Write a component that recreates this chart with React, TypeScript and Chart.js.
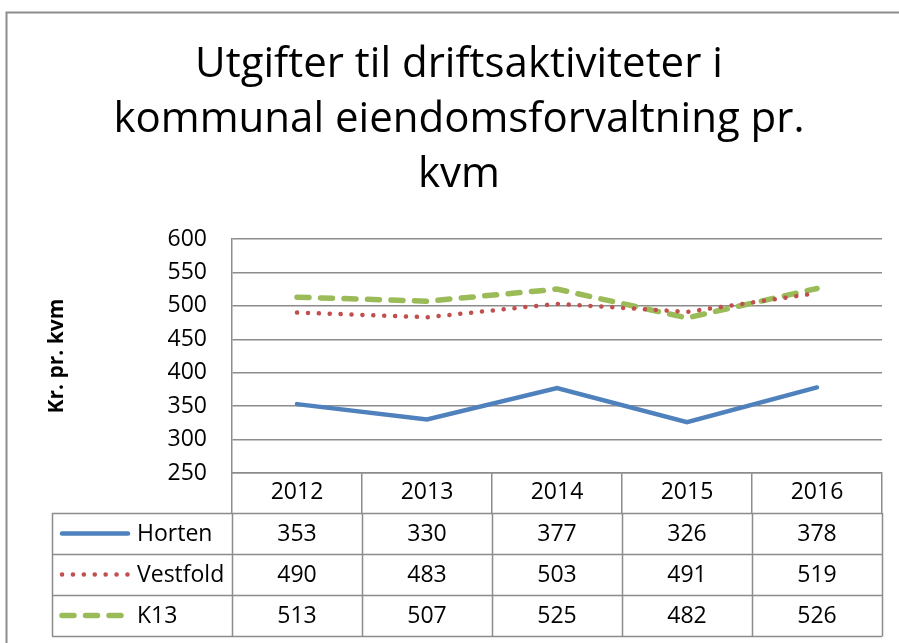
import React, { useEffect, useRef } from "react";
import { Chart, registerables } from "chart.js";

Chart.register(...registerables);

const titleLines = ["Utgifter til driftsaktiviteter i", "kommunal eiendomsforvaltning pr.", "kvm"];
const yAxisTitle = "Kr. pr. kvm";
const years = ["2012", "2013", "2014", "2015", "2016"];
const horten = [353, 330, 377, 326, 378];
const vestfold = [490, 483, 503, 491, 519];
const k13 = [513, 507, 525, 482, 526];
const seriesNames = ["Horten", "Vestfold", "K13"];
const yMin = 250;
const yMax = 600;
const yStep = 50;

const FONT = "'Open Sans', 'Liberation Sans', sans-serif";
const GRID = "#8c8c8c";

const framePlugin = {
  id: "frame",
  beforeDraw(chart: any) {
    const ctx = chart.ctx;
    ctx.save();
    ctx.fillStyle = "#ffffff";
    ctx.fillRect(0, 0, chart.width, chart.height);
    ctx.strokeStyle = GRID;
    ctx.lineWidth = 2;
    ctx.beginPath();
    ctx.moveTo(6.5, chart.height + 2);
    ctx.lineTo(6.5, 12.5);
    ctx.lineTo(chart.width + 2, 12.5);
    ctx.stroke();
    ctx.restore();
  },
};

const tablePlugin = {
  id: "dataTable",
  afterDraw(chart: any) {
    const ctx = chart.ctx;
    const xs = chart.scales.x;
    const top = xs.bottom;
    const rowH = 41;
    const legendLeft = 52;
    const n = years.length;
    const right = xs.getPixelForValue(n - 0.5);
    const nRows = chart.data.datasets.length;
    ctx.save();
    ctx.strokeStyle = GRID;
    ctx.lineWidth = 1.5;
    ctx.beginPath();
    for (let r = 0; r <= nRows; r++) {
      const y = Math.round(top + r * rowH) + 0.5;
      ctx.moveTo(legendLeft, y);
      ctx.lineTo(right, y);
    }
    const bottom = Math.round(top + nRows * rowH) + 0.5;
    ctx.moveTo(legendLeft + 0.5, top);
    ctx.lineTo(legendLeft + 0.5, bottom);
    for (let i = 0; i <= n; i++) {
      const x = Math.round(xs.getPixelForValue(i - 0.5)) + 0.5;
      ctx.moveTo(x, top);
      ctx.lineTo(x, bottom);
    }
    ctx.stroke();

    chart.data.datasets.forEach((ds: any, r: number) => {
      const cy = top + r * rowH + rowH / 2;
      // legend sample
      ctx.save();
      ctx.strokeStyle = ds.borderColor;
      ctx.lineWidth = ds.borderWidth;
      ctx.lineCap = ds.borderCapStyle || "butt";
      ctx.setLineDash(ds.borderDash || []);
      ctx.beginPath();
      ctx.moveTo(legendLeft + 10, cy);
      ctx.lineTo(legendLeft + 76, cy);
      ctx.stroke();
      ctx.restore();
      ctx.fillStyle = "#000000";
      ctx.font = `23px ${FONT}`;
      ctx.textBaseline = "middle";
      ctx.textAlign = "left";
      ctx.fillText(ds.label, legendLeft + 85, cy + 1);
      ctx.textAlign = "center";
      ds.data.forEach((v: number, i: number) => {
        ctx.fillText(String(v), xs.getPixelForValue(i), cy + 1);
      });
    });
    ctx.restore();
  },
};

export default function App() {
  const ref = useRef<HTMLCanvasElement | null>(null);
  useEffect(() => {
    if (!ref.current) return;
    const chart = new Chart(ref.current, {
      type: "line",
      data: {
        labels: years,
        datasets: [
          {
            label: seriesNames[0],
            data: horten,
            borderColor: "#4f81bd",
            backgroundColor: "#4f81bd",
            borderWidth: 4.5,
            borderCapStyle: "round",
            pointRadius: 0,
            tension: 0,
          },
          {
            label: seriesNames[1],
            data: vestfold,
            borderColor: "#c0504d",
            backgroundColor: "#c0504d",
            borderWidth: 4.5,
            borderDash: [0.1, 10.8],
            borderCapStyle: "round",
            pointRadius: 0,
            tension: 0,
          },
          {
            label: seriesNames[2],
            data: k13,
            borderColor: "#9bbb59",
            backgroundColor: "#9bbb59",
            borderWidth: 5.5,
            borderDash: [12, 11.5],
            borderCapStyle: "round",
            pointRadius: 0,
            tension: 0,
          },
        ],
      },
      options: {
        animation: false,
        responsive: false,
        devicePixelRatio: 1,
        layout: { padding: { left: 36, right: 17, top: 0, bottom: 130 } },
        plugins: {
          legend: { display: false },
          tooltip: { enabled: false },
          title: {
            display: true,
            text: titleLines,
            color: "#000000",
            font: { family: FONT, size: 42, weight: "normal", lineHeight: 55 / 42 },
            padding: { top: 38, bottom: 36 },
          },
        },
        scales: {
          x: {
            type: "category",
            offset: true,
            afterFit: (s: any) => {
              s.height = 40;
            },
            grid: {
              offset: true,
              drawOnChartArea: false,
              drawTicks: true,
              tickLength: 40,
              color: GRID,
              lineWidth: 1.5,
            },
            border: { display: true, color: GRID, width: 1.5 },
            ticks: {
              color: "#000000",
              font: { family: FONT, size: 23 },
              padding: -34,
              autoSkip: false,
              maxRotation: 0,
            },
          },
          y: {
            min: yMin,
            max: yMax,
            afterFit: (s: any) => {
              s.width = 196;
            },
            grid: { color: GRID, lineWidth: 1.5, drawTicks: false },
            border: { display: true, color: GRID, width: 1.5 },
            ticks: {
              stepSize: yStep,
              color: "#000000",
              font: { family: FONT, size: 23 },
              padding: 25,
            },
            title: {
              display: true,
              text: yAxisTitle,
              color: "#000000",
              font: { family: FONT, size: 21, weight: "bold" },
              padding: { top: 8, bottom: 0 },
            },
          },
        },
      },
      plugins: [framePlugin, tablePlugin],
    });
    return () => chart.destroy();
  }, []);
  return (
    <div style={{ position: "absolute", left: 0, top: 0, width: 899, height: 643 }}>
      <canvas ref={ref} width={899} height={643} style={{ display: "block" }} />
    </div>
  );
}
